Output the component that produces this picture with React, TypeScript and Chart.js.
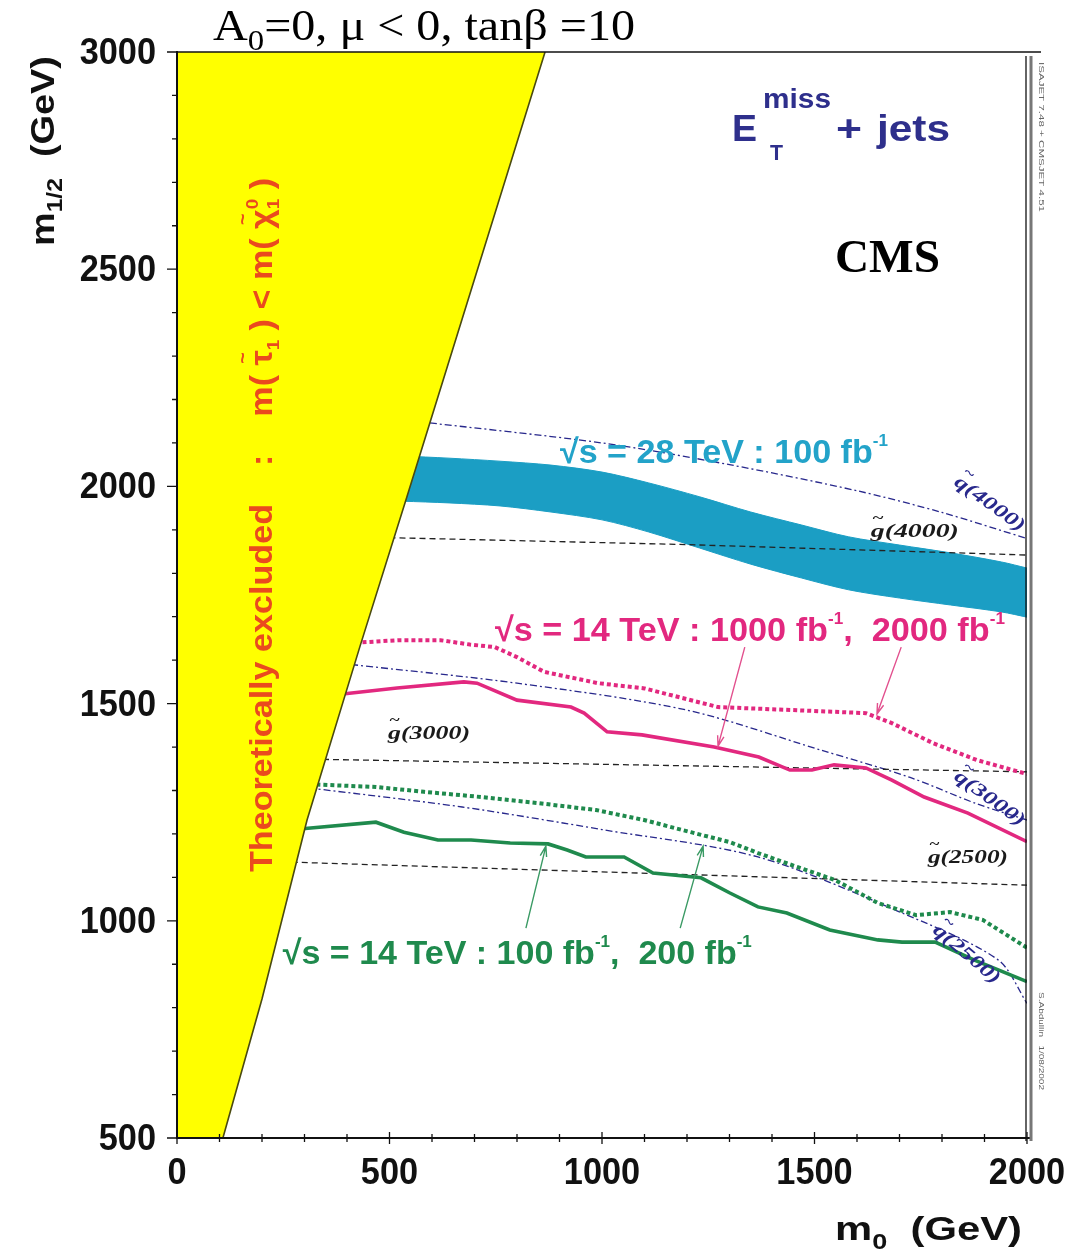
import React, { useEffect, useRef } from "react";
import { Chart, registerables } from "chart.js";

Chart.register(...registerables);

const W = 1071;
const H = 1258;

// axes
const X_MIN = 0;
const X_MAX = 2000;
const Y_MIN = 500;
const Y_MAX = 3000;
const xTickValues = [0, 500, 1000, 1500, 2000];
const xTickLabels = ["0", "500", "1000", "1500", "2000"];
const yTickValues = [500, 1000, 1500, 2000, 2500, 3000];
const yTickLabels = ["500", "1000", "1500", "2000", "2500", "3000"];
const MINOR_STEP = 100;

// edge of the theoretically excluded (stau LSP) region
const boundaryM0 = [108, 200, 306, 430, 541, 866];
const boundaryM12 = [500, 820, 1232, 1630, 1976, 3000];

// sqrt(s) = 28 TeV, 100 fb-1 reach band
const band28M0 = [530, 640, 760, 880, 1000, 1110, 1230, 1350, 1470, 1580, 1700, 1820, 1940, 2000];
const band28Top = [2070, 2065, 2058, 2049, 2033, 2008, 1976, 1941, 1911, 1884, 1865, 1847, 1826, 1812];
const band28Bottom = [1966, 1962, 1955, 1941, 1923, 1895, 1858, 1821, 1789, 1762, 1743, 1727, 1711, 1699];

// sqrt(s) = 14 TeV, 1000 fb-1 (solid) and 2000 fb-1 (dotted)
const reach1000M0 = [390, 518, 675, 706, 800, 927, 958, 1012, 1094, 1264, 1369, 1442, 1494, 1546, 1621, 1682, 1758, 1861, 2000];
const reach1000M12 = [1522, 1536, 1550, 1547, 1508, 1492, 1478, 1435, 1428, 1400, 1377, 1347, 1347, 1359, 1352, 1324, 1285, 1248, 1182];
const reach2000M0 = [420, 520, 620, 689, 748, 800, 864, 991, 1100, 1273, 1450, 1621, 1682, 1779, 1882, 2000];
const reach2000M12 = [1640, 1646, 1646, 1636, 1630, 1607, 1573, 1547, 1535, 1492, 1485, 1478, 1455, 1409, 1370, 1338];

// sqrt(s) = 14 TeV, 100 fb-1 (solid) and 200 fb-1 (dotted)
const reach100M0 = [295, 468, 534, 614, 692, 784, 873, 918, 962, 1052, 1120, 1233, 1301, 1367, 1435, 1536, 1649, 1706, 1784, 1875, 2000];
const reach100M12 = [1212, 1227, 1204, 1186, 1186, 1179, 1177, 1163, 1147, 1147, 1110, 1099, 1064, 1032, 1018, 979, 956, 951, 951, 910, 860];
const reach200M0 = [295, 468, 581, 715, 849, 986, 1099, 1209, 1301, 1367, 1459, 1548, 1649, 1739, 1819, 1896, 2000];
const reach200M12 = [1315, 1308, 1297, 1285, 1271, 1255, 1232, 1204, 1181, 1156, 1124, 1094, 1041, 1013, 1020, 1002, 938];

// iso-mass contours: gluino
const gluino4000M0 = [500, 1200, 2000];
const gluino4000M12 = [1882, 1866, 1842];
const gluino3000M0 = [320, 2000];
const gluino3000M12 = [1372, 1343];
const gluino2500M0 = [270, 2000];
const gluino2500M12 = [1135, 1082];

// iso-mass contours: squark
const squark4000M0 = [560, 1000, 1300, 1600, 1800, 2000];
const squark4000M12 = [2150, 2100, 2050, 1990, 1940, 1880];
const squark3000M0 = [410, 800, 1200, 1515, 1725, 1880, 2000];
const squark3000M12 = [1590, 1547, 1485, 1393, 1330, 1270, 1232];
const squark2500M0 = [310, 671, 1000, 1367, 1706, 1932, 2000];
const squark2500M12 = [1306, 1262, 1210, 1147, 1018, 910, 810];

// arrows from the labels to the curves: [tail m0, tail m1/2, head m0, head m1/2]
const arrow1000 = [1336, 1630, 1273, 1402];
const arrow2000 = [1704, 1630, 1647, 1476];
const arrow100 = [821, 983, 868, 1172];
const arrow200 = [1184, 983, 1238, 1172];

const YELLOW = "#ffff00";
const CYAN = "#1b9ec4";
const MAGENTA = "#e2287f";
const GREEN = "#1f8a4d";
const NAVY = "#28288c";
const RED = "#ea4a1e";

const pts = (xs: number[], ys: number[]) => xs.map((x, i) => ({ x, y: ys[i] }));

type Run = { t: string; size?: number; dy?: number; over?: boolean; keep?: boolean };
type TextStyle = { family: string; weight?: string; italic?: boolean; size: number; color: string };

function fontOf(s: TextStyle, size: number) {
  return `${s.italic ? "italic " : ""}${s.weight ?? "normal"} ${size}px ${s.family}`;
}

function drawRuns(
  ctx: CanvasRenderingContext2D,
  runs: Run[],
  style: TextStyle,
  x: number,
  y: number,
  opts: { width?: number; angle?: number; align?: "left" | "center" | "right" } = {}
) {
  ctx.save();
  let cursor = 0;
  let prevStart = 0;
  let prevW = 0;
  const placed: { t: string; x: number; dy: number; size: number }[] = [];
  for (const r of runs) {
    const size = r.size ?? style.size;
    ctx.font = fontOf(style, size);
    const w = ctx.measureText(r.t).width;
    let rx: number;
    if (r.over) {
      rx = prevStart + prevW / 2 - w / 2;
    } else {
      rx = cursor;
      if (!r.keep) {
        prevStart = cursor;
        prevW = w;
        cursor += w;
      }
    }
    placed.push({ t: r.t, x: rx, dy: r.dy ?? 0, size });
  }
  const sx = opts.width ? opts.width / cursor : 1;
  ctx.translate(x, y);
  if (opts.angle) ctx.rotate(opts.angle);
  ctx.scale(sx, 1);
  const shift = opts.align === "center" ? -cursor / 2 : opts.align === "right" ? -cursor : 0;
  ctx.fillStyle = style.color;
  ctx.textAlign = "left";
  ctx.textBaseline = "alphabetic";
  for (const p of placed) {
    ctx.font = fontOf(style, p.size);
    ctx.fillText(p.t, p.x + shift, p.dy);
  }
  ctx.restore();
}

function drawArrow(ctx: CanvasRenderingContext2D, x0: number, y0: number, x1: number, y1: number, color: string) {
  const a = Math.atan2(y1 - y0, x1 - x0);
  const L = 11;
  ctx.save();
  ctx.strokeStyle = color;
  ctx.lineWidth = 1.4;
  ctx.beginPath();
  ctx.moveTo(x0, y0);
  ctx.lineTo(x1, y1);
  ctx.moveTo(x1 - L * Math.cos(a - 0.3), y1 - L * Math.sin(a - 0.3));
  ctx.lineTo(x1, y1);
  ctx.lineTo(x1 - L * Math.cos(a + 0.3), y1 - L * Math.sin(a + 0.3));
  ctx.stroke();
  ctx.restore();
}

const SANS = "'Liberation Sans', Arial, sans-serif";
const SERIF = "'Liberation Serif', 'Times New Roman', serif";

const decorPlugin = {
  id: "decor",
  afterDatasetsDraw(chart: any) {
    const ctx: CanvasRenderingContext2D = chart.ctx;
    const xs = chart.scales.x;
    const ys = chart.scales.y;
    const px = (v: number) => xs.getPixelForValue(v);
    const py = (v: number) => ys.getPixelForValue(v);
    const L = px(X_MIN);
    const R = px(X_MAX);
    const T = py(Y_MAX);
    const B = py(Y_MIN);

    // frame
    ctx.save();
    ctx.strokeStyle = "#111";
    ctx.lineWidth = 2;
    ctx.beginPath();
    ctx.moveTo(L, T - 1);
    ctx.lineTo(L, B);
    ctx.lineTo(R + 5, B);
    ctx.stroke();
    ctx.lineWidth = 1.6;
    ctx.beginPath();
    ctx.moveTo(L, T);
    ctx.lineTo(R + 14, T);
    ctx.stroke();
    ctx.lineWidth = 1.3;
    ctx.beginPath();
    ctx.moveTo(R - 1, T + 4);
    ctx.lineTo(R - 1, B + 3);
    ctx.stroke();
    ctx.strokeStyle = "#777";
    ctx.lineWidth = 3;
    ctx.beginPath();
    ctx.moveTo(R + 4, T + 4);
    ctx.lineTo(R + 4, B + 3);
    ctx.stroke();

    // ticks
    ctx.strokeStyle = "#111";
    ctx.lineWidth = 1.3;
    ctx.beginPath();
    for (let v = Y_MIN; v <= Y_MAX; v += MINOR_STEP) {
      const major = yTickValues.includes(v);
      const y = py(v);
      ctx.moveTo(L - (major ? 10 : 5), y);
      ctx.lineTo(L, y);
    }
    for (let v = X_MIN; v <= X_MAX; v += MINOR_STEP) {
      const major = xTickValues.includes(v);
      const x = px(v);
      ctx.moveTo(x, B - (major ? 6 : 4));
      ctx.lineTo(x, B + (major ? 6 : 4));
    }
    ctx.stroke();

    // tick labels
    ctx.fillStyle = "#111";
    ctx.font = `bold 33px ${SANS}`;
    ctx.textAlign = "right";
    ctx.textBaseline = "middle";
    yTickValues.forEach((v, i) => {
      ctx.save();
      ctx.translate(156, py(v) + 2);
      ctx.scale(1.04, 1.1);
      ctx.fillText(yTickLabels[i], 0, 0);
      ctx.restore();
    });
    ctx.textAlign = "center";
    ctx.textBaseline = "alphabetic";
    xTickValues.forEach((v, i) => {
      ctx.save();
      ctx.translate(px(v), B + 46);
      ctx.scale(1.04, 1.1);
      ctx.fillText(xTickLabels[i], 0, 0);
      ctx.restore();
    });
    ctx.restore();

    const axisStyle: TextStyle = { family: SANS, weight: "bold", size: 34, color: "#111" };
    // y axis title
    drawRuns(ctx, [{ t: "m" }, { t: "1/2", size: 22, dy: 8 }, { t: "  (GeV)" }], axisStyle, 54, 246, {
      width: 190,
      angle: -Math.PI / 2,
    });
    // x axis title
    drawRuns(ctx, [{ t: "m" }, { t: "0", size: 22, dy: 9 }, { t: "  (GeV)" }], axisStyle, 835, 1240, { width: 187 });

    // title above the frame
    drawRuns(
      ctx,
      [{ t: "A" }, { t: "0", size: 30, dy: 10 }, { t: "=0, \u03bc < 0, tan\u03b2 =10" }],
      { family: SERIF, size: 44, color: "#000" },
      213,
      40,
      { width: 422 }
    );

    // channel label
    const chan: TextStyle = { family: SANS, weight: "bold", size: 36, color: "#2e2f8c" };
    drawRuns(ctx, [{ t: "E" }], chan, 732, 141, { width: 25 });
    drawRuns(ctx, [{ t: "miss", size: 27 }], chan, 763, 108, { width: 68 });
    drawRuns(ctx, [{ t: "T", size: 22 }], chan, 770, 160, { width: 13 });
    drawRuns(ctx, [{ t: "+" }], chan, 836, 141, { width: 26 });
    drawRuns(ctx, [{ t: "jets" }], chan, 877, 141, { width: 73 });

    // experiment label
    drawRuns(ctx, [{ t: "CMS" }], { family: SERIF, weight: "bold", size: 46, color: "#000" }, 835, 272, { width: 105 });

    // excluded-region label
    drawRuns(
      ctx,
      [
        { t: "Theoretically excluded" },
        { t: "    :    " },
        { t: "m( " },
        { t: "\u03c4" },
        { t: "~", size: 18, dy: -23, over: true },
        { t: "1", size: 17, dy: 7 },
        { t: " ) < m( " },
        { t: "\u03c7" },
        { t: "~", size: 18, dy: -23, over: true },
        { t: "0", size: 17, dy: -14, keep: true },
        { t: "1", size: 17, dy: 7 },
        { t: " )" },
      ],
      { family: SANS, weight: "bold", size: 31, color: RED },
      272,
      872,
      { width: 694, angle: -Math.PI / 2 }
    );

    // reach labels
    const sup = (t: string) => ({ t, size: 17, dy: -17 });
    drawRuns(
      ctx,
      [{ t: "\u221as = 28 TeV : 100 fb" }, sup("-1")],
      { family: SANS, weight: "bold", size: 34, color: "#23a3c9" },
      px(901),
      py(2054),
      { width: 328 }
    );
    drawRuns(
      ctx,
      [{ t: "\u221as = 14 TeV : 1000 fb" }, sup("-1"), { t: ",  2000 fb" }, sup("-1")],
      { family: SANS, weight: "bold", size: 34, color: MAGENTA },
      px(748),
      py(1644),
      { width: 510 }
    );
    drawRuns(
      ctx,
      [{ t: "\u221as = 14 TeV : 100 fb" }, sup("-1"), { t: ",  200 fb" }, sup("-1")],
      { family: SANS, weight: "bold", size: 34, color: GREEN },
      px(249),
      py(900),
      { width: 469 }
    );

    drawArrow(ctx, px(arrow1000[0]), py(arrow1000[1]), px(arrow1000[2]), py(arrow1000[3]), "#e2508e");
    drawArrow(ctx, px(arrow2000[0]), py(arrow2000[1]), px(arrow2000[2]), py(arrow2000[3]), "#e2508e");
    drawArrow(ctx, px(arrow100[0]), py(arrow100[1]), px(arrow100[2]), py(arrow100[3]), "#3a9a64");
    drawArrow(ctx, px(arrow200[0]), py(arrow200[1]), px(arrow200[2]), py(arrow200[3]), "#3a9a64");

    // iso-mass labels
    const gl: TextStyle = { family: SERIF, weight: "bold", italic: true, size: 19, color: "#1a1a1a" };
    const sq: TextStyle = { family: SERIF, weight: "bold", italic: true, size: 19, color: NAVY };
    const mass = (p: string, m: string): Run[] => [{ t: p }, { t: "~", size: 14, dy: -14, over: true }, { t: `(${m})` }];
    drawRuns(ctx, mass("g", "4000"), gl, px(1736), py(1884), { width: 88, align: "center" });
    drawRuns(ctx, mass("g", "3000"), gl, px(593), py(1419), { width: 82, align: "center" });
    drawRuns(ctx, mass("g", "2500"), gl, px(1861), py(1133), { width: 80, align: "center" });
    drawRuns(ctx, mass("q", "4000"), sq, px(1905), py(1950), { width: 82, align: "center", angle: 0.62 });
    drawRuns(ctx, mass("q", "3000"), sq, px(1905), py(1272), { width: 82, align: "center", angle: 0.62 });
    drawRuns(ctx, mass("q", "2500"), sq, px(1850), py(914), { width: 82, align: "center", angle: 0.7 });

    // tiny side notes
    const note: TextStyle = { family: SANS, size: 8, color: "#666" };
    drawRuns(ctx, [{ t: "ISAJET 7.48 + CMSJET 4.51" }], note, R + 12, 62, { width: 150, angle: Math.PI / 2 });
    drawRuns(ctx, [{ t: "S.Abdullin   1/08/2002" }], note, R + 12, 992, { width: 98, angle: Math.PI / 2 });
  },
};

export default function App() {
  const canvasRef = useRef<HTMLCanvasElement | null>(null);

  useEffect(() => {
    if (!canvasRef.current) return;
    const thin = { pointRadius: 0, showLine: true, fill: false as const, tension: 0 };
    const chart = new Chart(canvasRef.current, {
      type: "scatter",
      data: {
        datasets: [
          { ...thin, data: pts(boundaryM0, boundaryM12), borderColor: "#4a4a10", borderWidth: 1.6 },
          {
            ...thin,
            data: [{ x: X_MIN, y: Y_MIN }, ...pts(boundaryM0, boundaryM12)],
            borderWidth: 0,
            backgroundColor: YELLOW,
            fill: "end",
          },
          { ...thin, data: pts(reach1000M0, reach1000M12), borderColor: MAGENTA, borderWidth: 3.6 },
          { ...thin, data: pts(reach2000M0, reach2000M12), borderColor: MAGENTA, borderWidth: 4, borderDash: [4, 3] },
          { ...thin, data: pts(reach100M0, reach100M12), borderColor: GREEN, borderWidth: 3.6 },
          { ...thin, data: pts(reach200M0, reach200M12), borderColor: GREEN, borderWidth: 4, borderDash: [4, 3] },
          { ...thin, data: pts(gluino4000M0, gluino4000M12), borderColor: "#222", borderWidth: 1.3, borderDash: [6, 4] },
          { ...thin, data: pts(gluino3000M0, gluino3000M12), borderColor: "#222", borderWidth: 1.3, borderDash: [6, 4] },
          { ...thin, data: pts(gluino2500M0, gluino2500M12), borderColor: "#222", borderWidth: 1.3, borderDash: [6, 4] },
          { ...thin, tension: 0.3, data: pts(squark4000M0, squark4000M12), borderColor: NAVY, borderWidth: 1.3, borderDash: [7, 3, 2, 3] },
          { ...thin, tension: 0.3, data: pts(squark3000M0, squark3000M12), borderColor: NAVY, borderWidth: 1.3, borderDash: [7, 3, 2, 3] },
          { ...thin, tension: 0.3, data: pts(squark2500M0, squark2500M12), borderColor: NAVY, borderWidth: 1.3, borderDash: [7, 3, 2, 3] },
          {
            ...thin,
            tension: 0.3,
            data: pts(band28M0, band28Top),
            borderColor: CYAN,
            borderWidth: 1,
            backgroundColor: CYAN,
            fill: 13,
          },
          { ...thin, tension: 0.3, data: pts(band28M0, band28Bottom), borderColor: CYAN, borderWidth: 1 },
        ],
      },
      options: {
        animation: false,
        responsive: false,
        maintainAspectRatio: false,
        events: [],
        layout: { padding: { left: 177, right: 44, top: 52, bottom: 120 } },
        plugins: {
          legend: { display: false },
          tooltip: { enabled: false },
          title: { display: false },
        },
        scales: {
          x: { type: "linear", min: X_MIN, max: X_MAX, display: false },
          y: { type: "linear", min: Y_MIN, max: Y_MAX, display: false },
        },
      },
      plugins: [decorPlugin],
    } as any);
    return () => chart.destroy();
  }, []);

  return (
    <div style={{ position: "absolute", left: 0, top: 0, width: W, height: H, background: "#fff" }}>
      <canvas ref={canvasRef} width={W} height={H} style={{ display: "block" }} />
    </div>
  );
}
